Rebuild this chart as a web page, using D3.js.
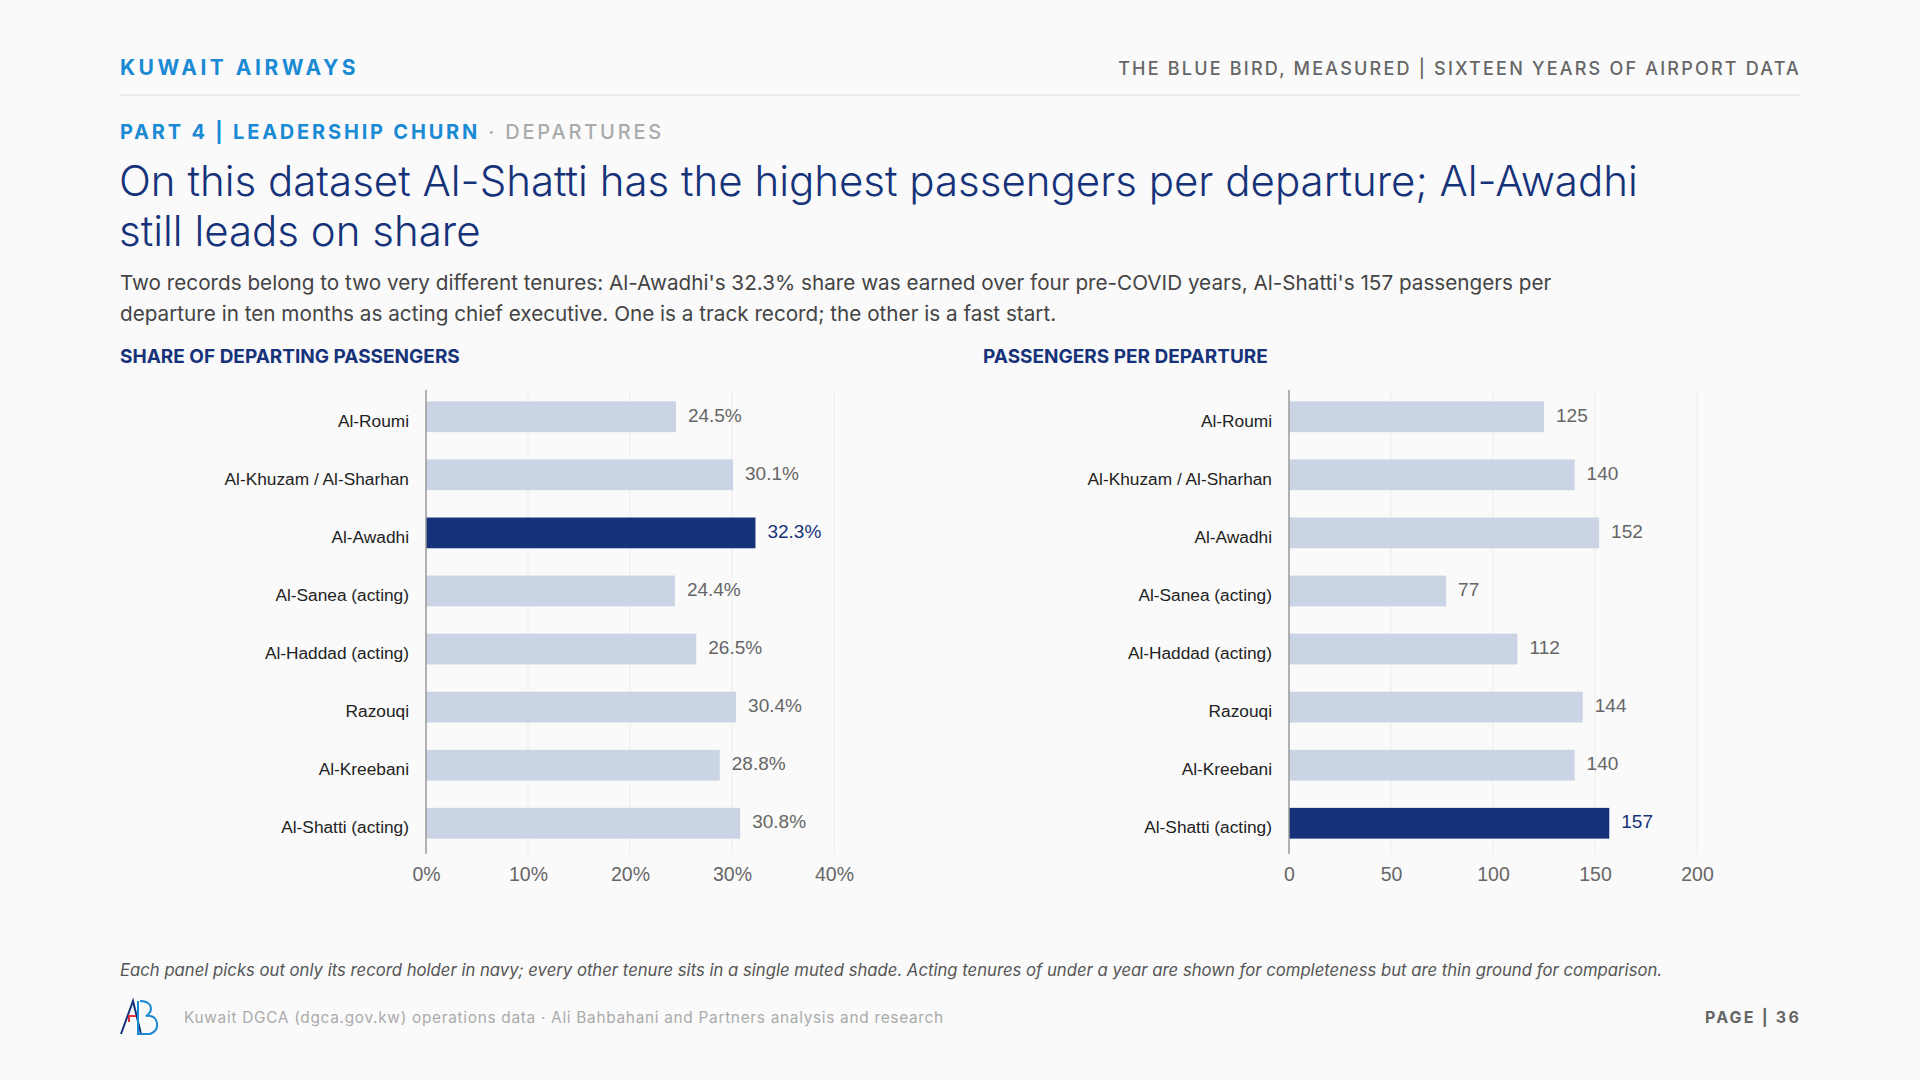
<!DOCTYPE html>
<html><head><meta charset="utf-8">
<script src="https://cdn.jsdelivr.net/npm/d3@7"></script>
<style>
body{margin:0;background:#fafafa;}
svg{display:block;font-family:Inter,"Noto Sans",sans-serif;}
</style></head>
<body><svg id="c" width="1920" height="1080"></svg>
<script>
// donnees
const names = ['Al-Roumi','Al-Khuzam / Al-Sharhan','Al-Awadhi','Al-Sanea (acting)','Al-Haddad (acting)','Razouqi','Al-Kreebani','Al-Shatti (acting)']
const share = [24.5,30.1,32.3,24.4,26.5,30.4,28.8,30.8]
const perDep = [125,140,152,77,112,144,140,157]
const shareTicks = [0,10,20,30,40]
const depTicks = [0,50,100,150,200]

const NAVY = '#16337a', MUTED = '#cbd4e4'
const svg = d3.select('#c')

// en-tete
svg.append('text').attr('x',120).attr('y',75).text('KUWAIT AIRWAYS')
  .attr('fill','#1a8ad4').attr('font-size',21).attr('font-weight',700).attr('letter-spacing',3.5)
svg.append('text').attr('x',1801).attr('y',75).attr('text-anchor','end')
  .text('THE BLUE BIRD, MEASURED | SIXTEEN YEARS OF AIRPORT DATA')
  .attr('fill','#666').attr('font-size',18).attr('font-weight',500).attr('letter-spacing',2.2)
svg.append('line').attr('x1',120).attr('x2',1801).attr('y1',95).attr('y2',95).attr('stroke','#ddd')
const part = svg.append('text').attr('x',120).attr('y',139).attr('font-size',20).attr('letter-spacing',2.8).attr('font-weight',700)
part.append('tspan').text('PART 4 | LEADERSHIP CHURN').attr('fill','#1a8ad4')
part.append('tspan').text(' · DEPARTURES').attr('fill','#aaa').attr('font-weight',500)

;['On this dataset Al-Shatti has the highest passengers per departure; Al-Awadhi','still leads on share']
  .forEach((t,i)=>svg.append('text').attr('x',119).attr('y',196+i*50).text(t)
    .attr('fill','#16337a').attr('font-size',42).attr('font-weight',300))
;["Two records belong to two very different tenures: Al-Awadhi's 32.3% share was earned over four pre-COVID years, Al-Shatti's 157 passengers per",
  "departure in ten months as acting chief executive. One is a track record; the other is a fast start."]
  .forEach((t,i)=>svg.append('text').attr('x',120).attr('y',290+i*30.5).text(t)
    .attr('fill','#444').attr('font-size',20.7))

function panel(x0, title, vals, ticks, fmt, hi) {
  svg.append('text').attr('x',x0===426?120:983).attr('y',363).text(title)
    .attr('fill','#16337a').attr('font-size',19).attr('font-weight',700)
  const x = d3.scaleLinear().domain([ticks[0],ticks[ticks.length-1]]).range([x0,x0+408])
  const y = d3.scaleBand().domain(names).range([388,852]).paddingInner(0.47).paddingOuter(0.23)
  const g = svg.append('g').attr('font-family','"Liberation Sans",Arial,sans-serif')
  g.selectAll('.grid').data(ticks.slice(1)).join('line')
    .attr('x1',d=>x(d)).attr('x2',d=>x(d)).attr('y1',390).attr('y2',854).attr('stroke','#ececec')
  g.selectAll('.bar').data(vals).join('rect')
    .attr('x',x0).attr('y',(d,i)=>y(names[i])).attr('height',y.bandwidth())
    .attr('width',d=>x(d)-x0).attr('fill',(d,i)=>i===hi?NAVY:MUTED)
  g.selectAll('.val').data(vals).join('text')
    .attr('x',d=>x(d)+12).attr('y',(d,i)=>y(names[i])+y.bandwidth()/2+5)
    .text(fmt).attr('font-size',19).attr('fill',(d,i)=>i===hi?NAVY:'#666')
  g.selectAll('.lab').data(names).join('text')
    .attr('x',x0-17).attr('y',d=>y(d)+y.bandwidth()/2+10).attr('text-anchor','end')
    .text(d=>d).attr('font-size',17.3).attr('fill','#222')
  g.append('line').attr('x1',x0).attr('x2',x0).attr('y1',390).attr('y2',854).attr('stroke','#999').attr('stroke-width',1.5)
  const ax = g.append('g').attr('transform','translate(0,855)')
    .call(d3.axisBottom(x).tickValues(ticks).tickSize(0).tickPadding(12).tickFormat(x0===426?d=>d+'%':d=>d))
  ax.select('.domain').remove()
  ax.selectAll('text').attr('font-size',19.5).attr('fill','#666').attr('font-family','"Liberation Sans",Arial,sans-serif')
}
panel(426,'SHARE OF DEPARTING PASSENGERS',share,shareTicks,d=>d.toFixed(1)+'%',2)
panel(1289,'PASSENGERS PER DEPARTURE',perDep,depTicks,d=>d,7)

svg.append('text').attr('x',120).attr('y',976).attr('font-style','italic').attr('font-size',16.7).attr('fill','#555')
  .text('Each panel picks out only its record holder in navy; every other tenure sits in a single muted shade. Acting tenures of under a year are shown for completeness but are thin ground for comparison.')
// logo
const lg = svg.append('g').attr('fill','none').attr('stroke-width',2)
lg.append('path').attr('d','M121,1034 L133,1001 L141,1034').attr('stroke','#16337a')
lg.append('path').attr('d','M138,1001 L138,1034 L150,1034 Q160,1030 156,1020 Q153,1015 146,1016 Q153,1012 150,1005 Q147,1001 140,1001').attr('stroke','#1a8ad4')
lg.append('path').attr('d','M129,1022 L129,1016 L136,1016').attr('stroke','#e0313a')
svg.append('text').attr('x',184).attr('y',1023).attr('font-size',15.4).attr('fill','#aaa').attr('letter-spacing',0.7)
  .text('Kuwait DGCA (dgca.gov.kw) operations data · Ali Bahbahani and Partners analysis and research')
svg.append('text').attr('x',1801).attr('y',1023).attr('text-anchor','end').attr('font-size',16).attr('font-weight',700)
  .attr('fill','#666').attr('letter-spacing',2.2).text('PAGE | 36')
</script></body></html>
